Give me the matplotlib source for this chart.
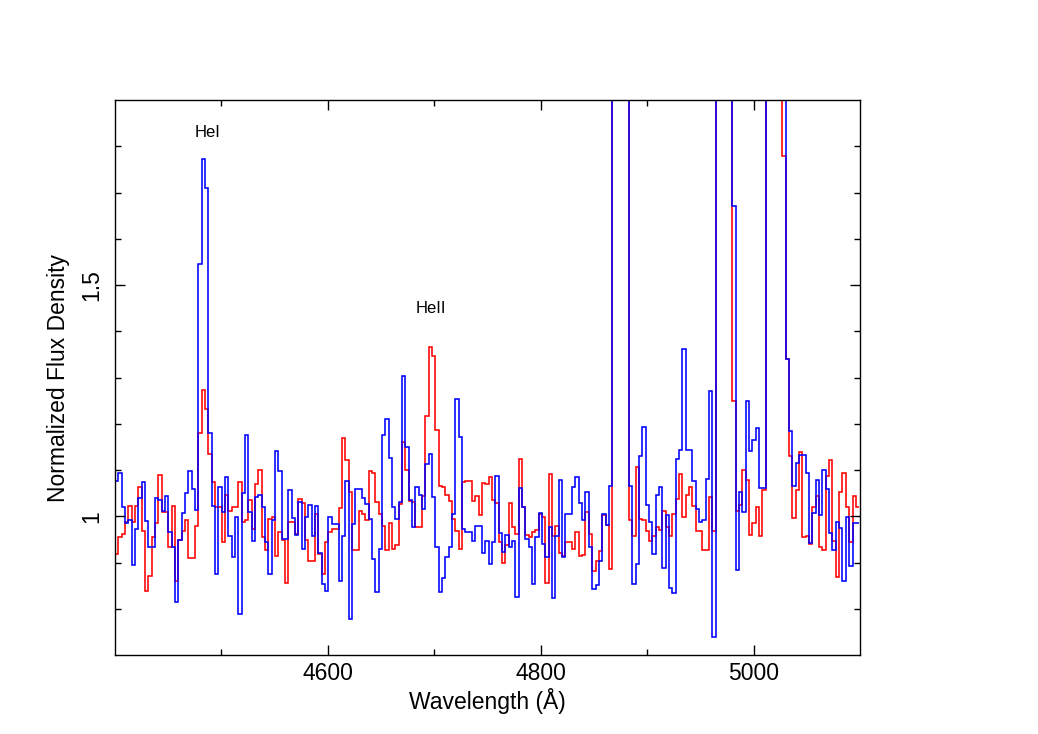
import numpy as np
import matplotlib
matplotlib.use("Agg")
import matplotlib.pyplot as plt
from matplotlib.ticker import FixedLocator

plt.rcParams['font.family'] = ['Liberation Sans', 'DejaVu Sans']

# ---- data ----
wave_start = 4399.9      # Angstrom, left edge of first bin
bin_width = 3.136        # Angstrom per bin

flux_blue = [
    1.077, 1.093, 1.021, 0.985, 0.991, 0.895, 0.973, 1.040, 1.074, 0.989,
    0.933, 0.933, 1.040, 1.036, 1.011, 1.043, 0.965, 0.934, 0.814, 0.949,
    1.007, 1.051, 1.097, 1.059, 1.014, 1.545, 1.772, 1.710, 1.180, 1.022,
    0.875, 1.064, 1.009, 1.085, 0.958, 0.911, 0.999, 0.789, 1.050, 1.175,
    1.009, 0.946, 1.041, 1.047, 1.020, 0.944, 0.875, 0.992, 1.142, 1.097,
    0.951, 0.951, 1.056, 0.996, 0.960, 1.030, 0.929, 0.998, 1.025, 0.957,
    1.023, 0.920, 0.853, 0.839, 0.998, 0.983, 0.983, 0.859, 0.958, 1.076,
    0.778, 0.983, 1.059, 1.059, 1.040, 1.027, 0.994, 0.908, 0.836, 0.929,
    1.175, 1.211, 1.126, 1.020, 0.994, 1.030, 1.304, 1.149, 1.036, 0.976,
    1.063, 1.047, 1.016, 1.113, 1.135, 1.041, 0.934, 0.836, 0.867, 0.911,
    0.933, 1.005, 1.254, 1.172, 0.972, 0.965, 0.965, 0.946, 0.980, 0.978,
    0.920, 0.946, 0.897, 0.944, 1.088, 0.963, 0.922, 0.960, 0.934, 0.947,
    0.825, 1.061, 1.021, 0.951, 0.934, 0.854, 0.956, 1.007, 0.939, 0.911,
    0.977, 0.823, 0.958, 1.079, 0.911, 1.005, 1.005, 1.063, 1.085, 1.028,
    0.992, 1.053, 0.934, 0.843, 0.852, 0.904, 1.005, 0.982, 1.066, 2.6,
    2.9, 3.0, 2.8, 2.4, 1.066, 0.854, 0.897, 1.131, 1.193, 1.025,
    0.987, 0.919, 1.045, 1.063, 0.888, 1.002, 0.845, 0.833, 1.123, 1.144,
    1.361, 1.144, 1.144, 1.077, 1.016, 0.987, 0.992, 1.081, 1.271, 0.738,
    2.2, 2.6, 2.8, 2.6, 2.2, 1.670, 0.883, 1.052, 1.009, 1.249,
    1.141, 1.164, 1.191, 1.061, 1.061, 3.5, 5.0, 6.0, 5.5, 4.0,
    2.5, 1.340, 1.184, 1.066, 1.115, 1.133, 1.133, 1.094, 0.942, 1.007,
    1.079, 1.002, 1.100, 1.059, 0.963, 0.926, 0.987, 0.975, 0.859, 0.998,
    0.893, 0.985, 0.985,
]

flux_red = [
    0.919, 0.955, 0.962, 0.987, 1.023, 0.987, 1.023, 1.064, 0.969, 0.838,
    0.870, 0.955, 0.986, 1.090, 1.009, 1.009, 0.933, 1.022, 0.861, 0.948,
    0.969, 0.992, 0.910, 0.910, 0.978, 1.180, 1.272, 1.232, 1.135, 1.074,
    1.021, 1.020, 0.944, 1.045, 1.012, 1.021, 1.021, 1.074, 0.987, 0.992,
    1.035, 0.973, 1.070, 1.100, 0.956, 0.926, 0.994, 0.999, 0.915, 0.967,
    0.948, 0.855, 0.987, 0.987, 0.962, 1.037, 1.028, 0.948, 0.904, 0.904,
    1.005, 0.919, 0.875, 0.944, 0.965, 0.973, 0.973, 1.018, 1.170, 1.121,
    1.052, 0.927, 0.927, 1.012, 1.005, 0.991, 1.097, 1.093, 1.030, 1.005,
    0.978, 0.926, 0.985, 0.929, 0.937, 1.027, 1.160, 1.099, 1.034, 1.030,
    0.976, 0.976, 1.043, 1.216, 1.367, 1.346, 1.187, 1.065, 1.063, 1.045,
    1.033, 0.993, 0.969, 0.929, 1.074, 1.076, 1.076, 1.034, 1.043, 1.002,
    1.071, 1.069, 1.084, 1.035, 1.028, 0.944, 0.900, 0.937, 1.028, 0.976,
    0.962, 1.123, 1.021, 0.960, 0.955, 0.965, 0.970, 1.005, 0.998, 0.855,
    1.092, 0.958, 0.978, 0.920, 0.913, 0.944, 0.944, 0.929, 0.965, 0.915,
    0.917, 1.009, 0.962, 0.881, 0.904, 0.924, 1.002, 0.982, 0.886, 2.4,
    2.7, 2.8, 2.6, 2.2, 0.992, 0.958, 1.106, 0.994, 0.992, 0.969,
    0.947, 0.958, 0.976, 0.970, 1.012, 0.976, 0.958, 1.005, 1.038, 1.092,
    0.999, 1.047, 1.063, 1.023, 0.969, 0.968, 0.927, 0.927, 1.041, 0.969,
    2.1, 2.5, 2.7, 2.5, 2.1, 1.250, 1.011, 1.025, 1.099, 1.079,
    0.960, 0.985, 1.021, 0.958, 1.057, 3.2, 4.8, 5.8, 5.2, 3.5,
    1.780, 1.340, 1.131, 0.996, 1.057, 1.139, 0.956, 0.958, 0.939, 1.021,
    1.043, 0.933, 0.926, 1.088, 1.121, 0.947, 0.868, 1.052, 1.093, 1.020,
    0.944, 1.043, 1.021,
]

x_major_ticks = [4600, 4800, 5000]
x_minor_ticks = [4500, 4700, 4900]
y_major_ticks = [1.0, 1.5]
y_major_labels = ['1', '1.5']
y_minor_ticks = [0.8, 0.9, 1.1, 1.2, 1.3, 1.4, 1.6, 1.7, 1.8]

line_names = ['HeI', 'HeII']
line_name_wave = [4487, 4697]
line_name_flux = [1.83, 1.449]

x_label = 'Wavelength (Å)'
y_label = 'Normalized Flux Density'

# ---- drawing ----
edges = wave_start + bin_width * np.arange(len(flux_blue) + 1)

fig = plt.figure(figsize=(10.38, 7.34), dpi=100)
ax = fig.add_axes([115 / 1038, 1 - 655 / 734, 745 / 1038, 555 / 734])

ax.stairs(flux_red, edges, color='#ff0000', lw=1.15, baseline=None)
ax.stairs(flux_blue, edges, color='#0000ff', lw=1.15, baseline=None)

ax.set_xlim(4400, 5100)
ax.set_ylim(0.7, 1.9)

ax.xaxis.set_major_locator(FixedLocator(x_major_ticks))
ax.xaxis.set_minor_locator(FixedLocator(x_minor_ticks))
ax.yaxis.set_major_locator(FixedLocator(y_major_ticks))
ax.yaxis.set_minor_locator(FixedLocator(y_minor_ticks))
ax.set_xticklabels([str(t) for t in x_major_ticks])
ax.set_yticklabels(y_major_labels, rotation=90, va='center')

ax.tick_params(which='both', direction='in', top=True, right=True,
               color='black', width=1.0, labelsize=16.5)
ax.tick_params(which='major', length=7.5)
ax.tick_params(which='minor', length=4)
ax.tick_params(axis='x', pad=5)
ax.tick_params(axis='y', pad=8.5)

for s in ax.spines.values():
    s.set_linewidth(1.0)
    s.set_color('black')

ax.set_xlabel(x_label, fontsize=16.5, labelpad=2.5)
ax.set_ylabel(y_label, fontsize=16.5, labelpad=7)

for name, wx, fy in zip(line_names, line_name_wave, line_name_flux):
    ax.text(wx, fy, name, fontsize=12, ha='center', va='center')

fig.savefig('out.png', dpi=100)
